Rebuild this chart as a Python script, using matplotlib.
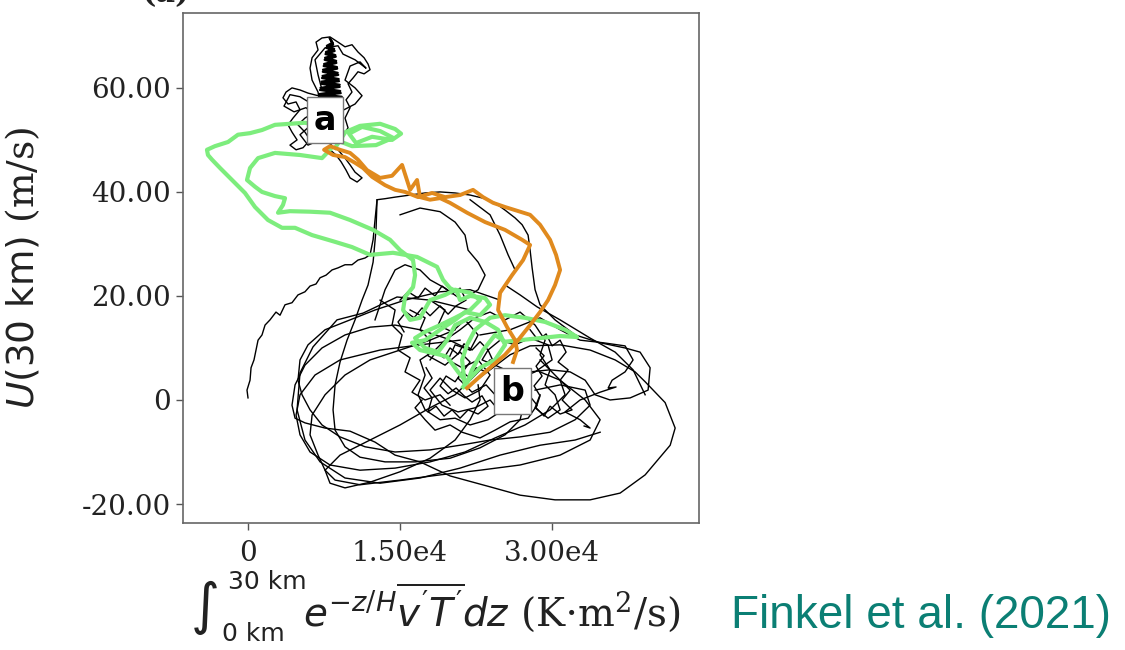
import matplotlib
matplotlib.use("Agg")
import matplotlib.pyplot as plt
from matplotlib.ticker import FixedLocator, FixedFormatter

plt.rcParams['font.family'] = ['DejaVu Sans']
plt.rcParams['mathtext.fontset'] = 'custom'
plt.rcParams['mathtext.rm'] = 'DejaVu Serif'
plt.rcParams['mathtext.it'] = 'DejaVu Sans:italic'
plt.rcParams['mathtext.sf'] = 'DejaVu Sans'
plt.rcParams['mathtext.bf'] = 'DejaVu Sans:bold'

# Heat flux integral in units of 1e3 K m^2/s, zonal wind U(30 km) in m/s

# --- black: ensemble of model trajectories ---
blk_spike_x = [6.91, 9.25, 7.00, 9.10, 7.15, 9.05, 7.25, 8.95, 7.35, 8.85, 7.40, 8.78, 7.50, 8.70, 7.60, 8.62,
               7.68, 8.50, 7.78, 8.35, 8.05, 8.40, 7.72, 8.55, 7.64, 8.66, 7.56, 8.72, 7.46, 8.80, 7.38, 8.90,
               7.30, 8.98, 7.20, 9.05, 7.10, 9.15, 7.00, 9.30]
blk_spike_y = [57.7, 58.3, 58.8, 59.4, 60.0, 60.6, 61.2, 61.7, 62.3, 62.9, 63.5, 64.0, 64.6, 65.2, 65.8, 66.3,
               66.9, 67.5, 68.1, 68.7, 69.6, 68.3, 67.7, 67.1, 66.5, 66.0, 65.4, 64.8, 64.2, 63.7, 63.1, 62.5,
               61.9, 61.3, 60.8, 60.2, 59.6, 59.0, 58.5, 57.9]

blk_a1_x = [8.09, 6.91, 5.92, 5.13, 4.34, 3.75, 3.45, 3.95, 4.74, 5.13, 4.44, 3.95, 4.34, 4.84, 4.14, 4.74,
            5.43, 6.12, 5.62, 4.93, 5.62, 6.61, 7.11, 6.91, 6.32, 6.12, 6.32, 6.91, 6.71, 7.30, 8.09, 8.88,
            9.57, 10.26, 10.85, 11.45, 11.84, 12.04, 11.45, 10.85, 10.36, 9.87, 10.26, 9.67, 10.07, 9.57,
            9.87, 9.37, 8.68, 8.09, 8.88, 9.57, 10.07, 10.56, 11.25, 10.76, 10.07, 9.67, 9.18, 8.68, 8.09]
blk_a1_y = [57.7, 58.5, 59.0, 59.6, 60.0, 59.2, 58.1, 56.9, 57.3, 55.8, 54.2, 52.9, 51.5, 50.0, 49.0, 48.1,
            48.5, 50.0, 51.5, 52.9, 54.2, 55.4, 56.7, 59.2, 61.5, 63.8, 65.8, 67.3, 68.8, 69.6, 69.8, 68.8,
            67.9, 68.3, 66.9, 65.8, 64.6, 63.5, 62.7, 63.1, 61.9, 60.8, 59.2, 57.7, 56.2, 54.2,
            52.3, 51.0, 50.0, 49.0, 48.1, 46.5, 45.2, 43.8, 42.7, 41.9, 42.7, 44.2, 45.8, 47.1, 48.1]

blk_a2_x = [7.70, 6.32, 5.13, 4.14, 3.55, 4.54, 5.72, 6.91, 6.12, 5.13, 5.92, 7.11, 7.60, 9.08, 10.56, 11.25,
            10.56, 9.57, 10.07, 11.05, 11.64, 10.56, 9.37, 8.88, 7.60, 6.61, 6.91, 7.30]
blk_a2_y = [57.7, 56.9, 58.3, 58.7, 56.5, 55.4, 56.2, 54.2, 52.7, 51.0, 49.0, 50.0, 52.3, 55.4, 56.9, 58.5,
            60.0, 61.5, 64.2, 65.0, 63.8, 65.4, 66.5, 68.1, 67.7, 65.4, 62.5, 59.6]

blk_jag_x = [0.0, -0.10, 0.20, 0.30, 0.59, 0.79, 0.99, 1.38, 1.68, 2.17, 2.76, 3.16, 3.65, 4.34, 4.93, 5.62,
             6.12, 6.71, 7.11, 7.70, 8.29, 8.88, 9.57, 10.26, 10.85, 11.55, 12.04, 12.34, 12.53, 12.73,
             13.52, 14.51, 15.99, 17.47, 18.95, 20.43, 21.91, 23.19, 24.37, 25.36, 26.35, 27.04, 27.63,
             27.83, 28.03, 28.32, 28.81, 30.29, 32.27, 34.74, 37.20, 38.68, 39.67, 39.47, 37.70, 35.72,
             34.24, 33.26, 31.78, 29.80, 27.83]
blk_jag_y = [0.4, 1.9, 3.8, 6.2, 7.7, 9.6, 11.5, 12.5, 14.4, 15.4, 16.9, 16.3, 18.3, 18.7, 20.2, 20.8,
             21.9, 22.3, 23.5, 24.0, 25.0, 25.4, 26.0, 26.0, 26.9, 27.3, 27.9, 30.8, 34.6, 38.5,
             38.7, 39.0, 39.4, 39.8, 40.0, 39.8, 39.4, 38.8, 37.9, 36.5, 35.0, 33.7, 31.7,
             28.8, 25.4, 21.2, 18.3, 15.4, 12.5, 11.0, 10.0, 9.2, 6.2, 1.9, 0.4, 0.0,
             1.0, 3.8, 5.4, 5.8, 5.4]

blk_vert_x = [12.73, 12.63, 12.34, 11.84, 11.25, 10.56, 9.77, 9.08, 8.59, 8.39, 8.59, 9.57, 11.05, 13.52,
              16.48, 19.93, 22.89, 25.36, 26.84, 27.33, 26.35, 24.67]
blk_vert_y = [38.5, 32.7, 26.5, 22.1, 19.2, 15.4, 11.5, 7.3, 2.9, -1.9, -5.8, -9.0, -11.0, -11.9,
              -11.9, -11.2, -9.2, -6.7, -3.8, 0.0, 2.9, 4.8]

blk_loop1_x = [21.91, 19.44, 16.97, 14.51, 12.04, 9.57, 7.30, 5.62, 4.64, 4.34, 4.64, 5.62, 7.60, 10.07,
               12.53, 14.51, 16.97, 19.93, 23.88, 26.84, 30.29, 33.75, 36.71, 39.18, 41.65, 42.14, 41.15,
               39.18, 38.19, 36.22, 33.75, 30.79, 27.83, 25.86, 23.88, 21.91]
blk_loop1_y = [9.6, 11.9, 13.5, 14.4, 14.0, 12.5, 10.0, 6.7, 2.9, -1.0, -3.5, -4.4, -5.4, -6.0,
               -8.1, -10.6, -11.9, -14.6, -16.7, -18.3, -19.2, -19.2, -17.9, -14.4, -8.7, -5.4, -0.5,
               3.5, 5.4, 7.7, 9.6, 10.6, 10.4, 8.7, 5.8, 2.9]

blk_loop2_x = [20.43, 17.96, 15.0, 12.04, 9.57, 7.60, 6.32, 6.12, 6.91, 7.60, 8.09, 9.57, 12.04, 15.0,
               17.96, 20.43, 21.91, 22.89, 22.70]
blk_loop2_y = [13.5, 11.5, 9.6, 7.7, 4.8, 1.0, -2.9, -6.7, -10.6, -13.5, -16.0, -16.9, -15.8, -13.8,
               -11.2, -7.7, -3.8, 0.0, 2.9]

blk_loop3_x = [24.87, 21.91, 18.95, 15.49, 12.53, 10.07, 7.60, 5.92, 5.13, 4.93, 5.33, 6.12, 7.30, 9.08,
               11.55, 14.51, 17.96, 20.92, 23.88, 26.84, 29.80, 32.27, 33.75, 33.26, 30.79, 28.32]
blk_loop3_y = [19.2, 21.2, 20.8, 19.2, 17.3, 15.4, 13.5, 10.6, 7.7, 3.8, 1.0, -1.9, -4.8, -7.1,
               -9.0, -10.0, -9.6, -8.7, -7.7, -7.1, -6.2, -3.8, -1.0, 1.9, 2.9, 1.9]

blk_loop4_x = [28.81, 30.79, 33.26, 34.74, 33.75, 30.79, 26.84, 22.89, 18.95, 15.0, 11.05, 8.59, 7.60,
               9.08, 12.04, 15.0, 17.96, 20.43, 21.91, 23.88]
blk_loop4_y = [7.7, 3.8, 0.0, -3.8, -7.7, -10.6, -12.5, -13.5, -14.4, -15.4, -16.3, -15.4, -13.5,
               -10.6, -7.7, -4.8, -1.5, 1.0, 3.8, 7.7]

blk_loop5_x = [20.92, 16.97, 13.03, 9.08, 6.61, 5.13, 4.74, 5.13, 6.12, 8.09, 11.05, 14.51, 17.96, 21.41,
               24.37, 27.33, 29.80, 31.28, 30.79, 28.81]
blk_loop5_y = [11.5, 10.6, 9.6, 7.7, 4.8, 1.0, -2.9, -6.7, -10.0, -12.5, -13.5, -13.1, -11.9, -10.0,
               -7.3, -4.8, -1.9, 1.0, 3.8, 5.4]

blk_loop6_x = [21.91, 17.96, 14.70, 11.35, 8.78, 6.41, 5.13, 4.84, 5.62, 7.11, 9.57, 13.03, 16.97, 20.92,
               24.87, 28.81, 32.27, 34.74]
blk_loop6_y = [17.3, 19.2, 19.8, 16.7, 15.4, 10.2, 5.2, -1.9, -7.7, -11.9, -15.0, -16.0, -15.0, -13.1,
               -10.6, -8.7, -7.7, -6.2]

blk_arm_x = [22.89, 25.86, 28.81, 30.79, 32.76, 35.03, 37.20, 37.99, 37.20, 35.92, 35.53, 36.31, 34.74,
             32.76, 31.28, 32.76, 33.75, 33.16]
blk_arm_y = [12.5, 13.5, 15.8, 13.5, 11.5, 11.0, 10.4, 7.7, 5.4, 3.8, 2.3, 2.5, 1.5,
             0.0, -2.3, -3.8, -5.4, -5.0]

blk_mid_x = [15.0, 16.97, 18.95, 20.43, 21.41, 21.71, 22.70, 23.39, 22.70, 21.12, 19.44, 17.96, 16.97,
             15.49, 14.51, 13.52, 13.03, 12.53]
blk_mid_y = [35.6, 36.9, 36.2, 34.2, 31.7, 28.8, 26.5, 24.0, 21.2, 19.2, 21.5, 23.1, 25.0,
             26.0, 25.0, 21.2, 18.3, 15.4]

blk_mid2_x = [21.91, 23.88, 24.87, 25.66, 26.35, 25.36, 26.84, 28.52, 30.79, 33.75, 36.22, 37.99, 39.18]
blk_mid2_y = [38.5, 35.6, 31.7, 27.9, 25.0, 22.1, 20.2, 17.9, 15.4, 11.9, 9.2, 5.8, 1.0]

blk_b1_x = [17.96, 19.44, 18.75, 20.13, 21.41, 22.70, 21.91, 20.43, 19.74, 21.12, 22.70, 23.88, 22.89,
            21.41, 20.13, 18.95, 17.96, 19.14, 20.72, 22.40, 23.88, 24.87, 23.68, 21.91, 20.43, 18.95,
            17.47, 16.78, 17.47, 16.97, 18.45, 19.44, 20.92, 22.40, 23.88, 25.36, 26.84, 28.32, 29.31,
            28.81, 29.80, 29.31, 30.29, 30.79, 29.60, 28.32, 28.81]
blk_b1_y = [19.2, 17.3, 14.4, 13.1, 15.4, 12.5, 9.6, 10.6, 7.7, 6.2, 7.7, 4.8, 1.9,
            0.4, 1.9, 4.2, 1.9, -1.0, -2.3, -1.5, 0.0, -2.3, -3.8, -4.8, -3.5, -3.8,
            -1.9, 1.0, 4.8, 7.7, 9.6, 11.5, 13.5, 15.8, 16.9, 15.4, 16.9, 14.4, 11.5,
            8.7, 5.8, 2.9, 1.0, -1.9, -3.5, -1.5, 1.0]

blk_b2_x = [15.99, 17.47, 16.97, 17.96, 17.76, 19.44, 20.92, 21.91, 20.72, 22.10, 23.49, 24.37, 25.36,
            26.84, 28.32, 30.00, 29.60, 27.83, 26.35, 24.87, 23.68, 24.37, 25.86, 27.33, 28.52, 27.63,
            25.86, 24.37, 22.89, 21.12, 19.93, 18.45, 17.47, 16.48, 17.17]
blk_b2_y = [17.3, 15.8, 13.5, 11.5, 8.5, 6.7, 9.2, 7.3, 4.2, 1.5, 2.9, 1.0, 2.9,
            4.2, 5.4, 7.7, 10.6, 11.9, 10.6, 11.5, 9.6, 6.7, 5.4, 1.9, -1.0, -3.5,
            -4.2, -5.8, -7.3, -6.2, -4.8, -5.8, -3.8, -1.5, 0.0]

blk_b3_x = [13.03, 14.51, 14.21, 15.20, 14.80, 15.99, 15.49, 16.97, 16.18, 17.47, 18.95, 19.93]
blk_b3_y = [19.2, 17.3, 14.4, 12.5, 9.6, 8.1, 5.4, 3.8, 1.5, 0.0, 1.0, -1.0]

blk_b4_x = [17.96, 18.55, 19.34, 19.93, 20.72, 21.31, 22.10, 22.89, 23.68, 23.09, 24.08, 23.49, 22.50,
            21.91, 21.12, 20.43, 19.54, 18.95, 19.74, 20.53, 21.31, 22.10, 23.09, 23.68, 22.70, 21.71,
            20.92, 20.13, 19.34, 18.55, 17.76, 18.16, 17.37, 18.16, 17.57]
blk_b4_y = [7.7, 9.2, 8.1, 10.0, 8.8, 10.8, 9.6, 11.2, 9.6, 7.7, 6.9, 5.4, 6.2,
            4.2, 5.4, 3.5, 4.6, 2.7, 1.2, 2.3, 0.8, -0.4, 0.8, -1.2, -2.7, -1.9,
            -3.5, -1.9, -3.1, -1.2, -2.3, 0.4, 2.3, 4.2, 6.2]

blk_b5_x = [27.83, 28.62, 29.41, 30.00, 30.79, 31.38, 30.59, 31.58, 30.79, 31.78, 30.99, 31.97, 30.79,
            29.80, 29.21, 28.42, 28.81, 28.22, 29.01, 28.42, 29.21, 28.42]
blk_b5_y = [13.5, 11.5, 12.7, 10.4, 11.5, 9.2, 7.3, 5.8, 3.8, 1.9, 0.0, -1.9, -2.7,
            -1.2, -3.1, -1.5, 0.8, 2.7, 4.6, 6.5, 8.5, 10.0]

blk_b6_x = [15.0, 15.79, 16.78, 17.47, 18.45, 19.14, 20.13, 20.92, 21.51, 20.53, 19.74, 18.95, 17.96,
            17.17, 16.38, 15.59, 14.80, 15.39]
blk_b6_y = [19.2, 20.8, 19.6, 21.5, 20.0, 21.9, 20.4, 21.5, 19.2, 18.1, 16.5, 18.1, 16.2,
            17.7, 15.8, 16.9, 15.0, 13.1]

# --- green: first highlighted trajectory (two passes from a to b) ---
grn_outer_x = [8.6, 9.6, 11.05, 13.03, 14.51, 15.10, 14.21, 12.24, 10.66, 9.97, 11.25, 13.03, 14.31, 12.63,
               10.26, 8.68, 7.10, 5.62, 4.14, 2.66, 1.38, 0.20, -0.99, -1.97, -3.26, -4.05, -3.95, -3.55,
               -2.76, -1.58, -0.30, 0.69, 1.97, 3.36, 4.64, 6.32, 8.59, 10.26, 12.04, 14.31, 16.68, 18.65,
               19.24, 19.93, 20.62, 20.92, 21.91, 23.39, 23.88, 22.89, 21.41, 20.43, 18.95, 17.47, 16.18,
               16.97, 18.95, 19.64, 20.72, 21.61, 22.10, 23.19, 24.37, 25.36, 26.84, 28.81, 30.79, 32.47,
               31.28, 29.31, 27.33, 25.36, 23.88, 22.40, 21.61, 21.12, 21.41]
grn_outer_y = [48.5, 51.5, 52.7, 53.1, 52.1, 51.2, 50.0, 50.6, 49.4, 51.2, 52.5, 51.7, 50.4, 49.0,
               48.8, 50.0, 52.7, 53.3, 53.1, 52.9, 51.9, 51.3, 51.0, 49.6, 48.8, 48.1, 47.1, 46.2,
               44.6, 42.3, 39.8, 37.1, 34.6, 33.1, 33.1, 31.7, 30.4, 29.4, 27.9, 28.3, 27.5, 25.6,
               23.1, 21.5, 20.8, 19.2, 20.0, 19.6, 18.3, 16.3, 16.9, 15.4, 13.5, 11.5, 11.0,
               9.6, 8.7, 8.3, 5.4, 3.3, 5.8, 9.6, 12.5, 11.2, 11.5, 11.9, 12.3, 12.1,
               13.5, 15.0, 15.8, 16.3, 15.8, 13.5, 10.6, 7.7, 2.5]

grn_inner_x = [8.09, 7.30, 5.13, 2.66, 0.99, 0.20, -0.10, 0.69, 1.38, 2.66, 3.65, 3.45, 2.96, 4.14, 6.12,
               8.09, 10.07, 12.34, 14.01, 15.0, 16.28, 16.48, 16.28, 15.49, 15.30, 15.99, 16.97, 17.96,
               19.44, 20.43, 21.91, 22.89, 21.91, 20.43, 18.95, 17.47, 16.48, 17.47, 18.75, 19.64, 20.43,
               21.91, 23.39, 24.67, 25.36, 24.37, 22.89, 21.91, 21.22]
grn_inner_y = [48.1, 46.5, 47.1, 47.5, 46.5, 44.6, 42.3, 41.0, 40.0, 39.2, 38.8, 37.5, 36.0, 36.3, 36.2,
               36.0, 34.6, 32.7, 30.8, 28.8, 26.9, 24.0, 21.7, 19.8, 17.3, 15.4, 15.8, 19.2,
               20.2, 21.2, 20.6, 19.2, 17.3, 15.8, 14.4, 13.1, 11.9, 10.0, 9.2, 11.5, 14.4,
               15.8, 15.0, 13.5, 10.6, 7.7, 6.2, 4.2, 2.5]

# --- orange: second highlighted trajectory ---
org_x = [26.15, 26.54, 26.35, 25.56, 24.67, 24.87, 26.05, 27.14, 27.83, 27.04, 25.36, 23.39, 21.61, 19.93,
         18.95, 17.96, 16.97, 16.68, 15.99, 15.20, 14.21, 13.03, 11.74, 10.85, 10.07, 9.08, 8.09, 7.50,
         8.39, 9.57, 10.56, 11.35, 12.24, 13.52, 14.51, 15.49, 16.78, 18.16, 19.44, 20.92, 22.20, 23.19,
         24.18, 25.36, 26.35, 27.83, 28.81, 29.80, 30.39, 30.79, 30.29, 29.60, 28.81, 27.83, 26.64,
         25.36, 23.88, 22.70, 21.61]
org_y = [7.3, 9.6, 11.5, 14.0, 17.3, 20.6, 24.0, 26.9, 29.8, 30.8, 32.7, 34.2, 36.0, 37.9,
         38.8, 38.5, 39.0, 42.3, 40.4, 45.2, 43.1, 42.7, 44.2, 46.2, 47.5, 48.1, 48.8, 48.1,
         47.1, 46.7, 45.6, 44.6, 42.9, 41.3, 40.4, 40.0, 39.0, 39.8, 39.0, 39.4, 40.4, 39.0,
         37.9, 37.1, 36.5, 35.6, 33.7, 30.8, 27.9, 25.0, 22.1, 19.2, 16.9, 14.4, 11.5,
         8.7, 6.2, 4.2, 2.3]

# labelled states
state_labels = ['a', 'b']
state_x = [7.60, 26.06]
state_y = [53.8, 1.7]

xtick_vals = [0, 15, 30]
xtick_text = ['0', '1.50e4', '3.00e4']
ytick_vals = [-20, 0, 20, 40, 60]
ytick_text = ['-20.00', '0', '20.00', '40.00', '60.00']

fig = plt.figure(figsize=(11.25, 6.5), dpi=100)
ax = fig.add_axes([0.1627, 0.1954, 0.4587, 0.7846])

black_paths = [
    (blk_jag_x, blk_jag_y), (blk_vert_x, blk_vert_y), (blk_loop1_x, blk_loop1_y),
    (blk_loop2_x, blk_loop2_y), (blk_loop3_x, blk_loop3_y), (blk_loop4_x, blk_loop4_y),
    (blk_loop5_x, blk_loop5_y), (blk_loop6_x, blk_loop6_y),
    (blk_arm_x, blk_arm_y), (blk_mid_x, blk_mid_y), (blk_mid2_x, blk_mid2_y),
    (blk_b1_x, blk_b1_y), (blk_b2_x, blk_b2_y), (blk_b3_x, blk_b3_y),
    (blk_b4_x, blk_b4_y), (blk_b5_x, blk_b5_y), (blk_b6_x, blk_b6_y),
    (blk_a1_x, blk_a1_y), (blk_a2_x, blk_a2_y),
]
for px, py in black_paths:
    ax.plot(px, py, color='black', lw=1.0, zorder=2, solid_joinstyle='round')
ax.plot(blk_spike_x, blk_spike_y, color='black', lw=1.6, zorder=2, solid_joinstyle='round')

for px, py in [(grn_outer_x, grn_outer_y), (grn_inner_x, grn_inner_y)]:
    ax.plot(px, py, color='#7ded7d', lw=3.0, zorder=3, solid_joinstyle='round')

ax.plot(org_x, org_y, color='#e08a1e', lw=2.8, zorder=4, solid_joinstyle='round')

for lab, sx, sy in zip(state_labels, state_x, state_y):
    ax.text(sx, sy, lab, ha='center', va='center', fontsize=24, fontweight='bold',
            family='DejaVu Sans', zorder=6,
            bbox=dict(boxstyle='square,pad=0.2', fc='white', ec='#777777', lw=1.0))

ax.set_xlim(-6.41, 44.5)
ax.set_ylim(-23.65, 74.4)

ax.xaxis.set_major_locator(FixedLocator(xtick_vals))
ax.xaxis.set_major_formatter(FixedFormatter(xtick_text))
ax.yaxis.set_major_locator(FixedLocator(ytick_vals))
ax.yaxis.set_major_formatter(FixedFormatter(ytick_text))
ax.tick_params(axis='both', colors='#555555', labelcolor='#222222', length=5, width=1.0,
               labelsize=20)
ax.tick_params(axis='x', pad=7)
ax.tick_params(axis='y', pad=4)
for lbl in ax.get_xticklabels() + ax.get_yticklabels():
    lbl.set_family('DejaVu Serif')

for sp in ax.spines.values():
    sp.set_color('#666666')
    sp.set_linewidth(1.2)

ax.set_ylabel(r'$U$(30 km) $\mathrm{(m/s)}$', fontsize=27, color='#222222')
ax.yaxis.set_label_coords(-0.273, 0.5)

# x-axis label: large integral sign with its limits, then the integrand and units
fig.text(0.1822, 0.0646, '\u222b', fontsize=40, color='#222222', ha='center', va='center')
fig.text(0.2027, 0.1046, '30 km', fontsize=18, color='#222222', ha='left', va='center')
fig.text(0.1973, 0.0246, '0 km', fontsize=18, color='#222222', ha='left', va='center')
fig.text(0.2693, 0.0369, r"$e^{-z/H}\overline{v^{\prime}T^{\prime}}dz\ \mathrm{(K{\cdot}m^2/s)}$",
         fontsize=28, color='#222222', ha='left', va='baseline')

fig.text(0.650, 0.053, 'Finkel et al. (2021)', color='#0b7f74', fontsize=33,
         family='Liberation Sans', ha='left', va='center')
fig.text(0.147, 1 - 2 / 650, '(a)', color='#222222', fontsize=22, family='DejaVu Serif',
         fontweight='bold', ha='center', va='baseline')

fig.savefig('out.png', dpi=100, facecolor='white')
